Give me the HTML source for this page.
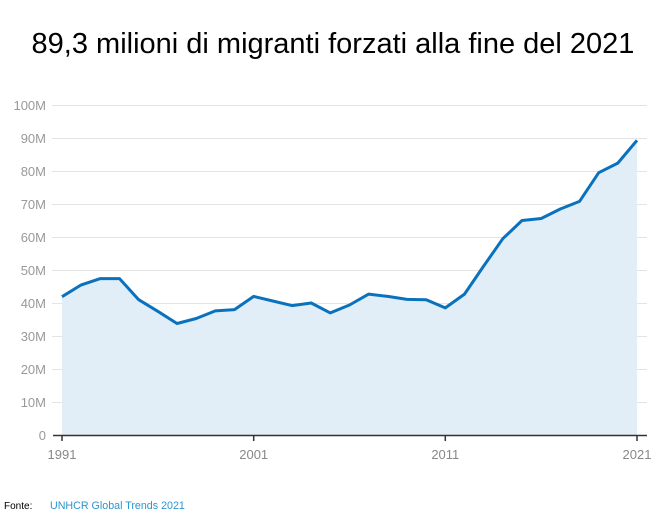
<!DOCTYPE html>
<html><head><meta charset="utf-8"><style>
body{margin:0;width:669px;height:522px;background:#fff;overflow:hidden;font-family:"Liberation Sans",sans-serif}
</style></head><body>
<svg id="s" width="669" height="522" xmlns="http://www.w3.org/2000/svg">
<text x="333" y="53" text-anchor="middle" font-size="29" fill="#000" font-family="Liberation Sans">89,3 milioni di migranti forzati alla fine del 2021</text>
<g id="grid" stroke="#e4e4e4" stroke-width="1"></g>
<g id="yl" font-size="13" fill="#999" text-anchor="end"></g>
<polygon id="area" fill="#e1edf7"/>
<polyline id="line" fill="none" stroke="#0a72bd" stroke-width="3" stroke-linejoin="round"/>
<line x1="53" y1="435.5" x2="647" y2="435.5" stroke="#333" stroke-width="1.5"/>
<g stroke="#333" stroke-width="1.5">
<line x1="62" y1="435" x2="62" y2="441"/><line x1="253.7" y1="435" x2="253.7" y2="441"/>
<line x1="445.3" y1="435" x2="445.3" y2="441"/><line x1="637" y1="435" x2="637" y2="441"/></g>
<g font-size="13" fill="#888" text-anchor="middle">
<text x="62" y="459">1991</text><text x="253.7" y="459">2001</text><text x="445.3" y="459">2011</text><text x="637" y="459">2021</text></g>
<text x="4" y="509" font-size="10" fill="#000">Fonte:</text>
<text x="50" y="509" font-size="10.7" fill="#2a95d0">UNHCR Global Trends 2021</text>
</svg>
<script>
var v=[41.9,45.5,47.4,47.4,41,37.5,33.8,35.3,37.6,38,42,40.6,39.2,40,37,39.4,42.7,42,41.1,41,38.5,42.7,51.2,59.5,65,65.6,68.5,70.8,79.5,82.4,89.3];
var pts=v.map(function(d,i){return (62+i*575/30).toFixed(1)+","+(435-3.3*d).toFixed(1)});
document.getElementById("line").setAttribute("points",pts.join(" "));
document.getElementById("area").setAttribute("points","62,435 "+pts.join(" ")+" 637,435");
var g=document.getElementById("grid"),yl=document.getElementById("yl"),ns="http://www.w3.org/2000/svg";
for(var k=0;k<=10;k++){var y=435-33*k;
if(k>0){var l=document.createElementNS(ns,"line");l.setAttribute("x1",52);l.setAttribute("x2",647);l.setAttribute("y1",y+0.5);l.setAttribute("y2",y+0.5);g.appendChild(l);}
var t=document.createElementNS(ns,"text");t.setAttribute("x",46);t.setAttribute("y",y+5);t.textContent=k==0?"0":(k*10)+"M";yl.appendChild(t);}
</script>
</body></html>
